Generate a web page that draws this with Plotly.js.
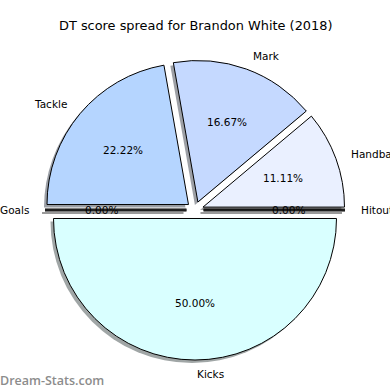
<!DOCTYPE html>
<html>
<head>
<meta charset="utf-8">
<script src="https://cdn.plot.ly/plotly-3.0.1.min.js"></script>
<style>html,body{margin:0;padding:0;background:#fff;}#chart{width:390px;height:390px;}</style>
</head>
<body>
<div id="chart"></div>
<script>
// Data (order drawn counter-clockwise starting at 9 o'clock)
const labels = ['Goals', 'Kicks', 'Hitouts', 'Handball', 'Mark', 'Tackle'];
const values = [0, 9, 0, 2, 3, 4];
const colors = ['#ffd9d9', '#d9ffff', '#d9d9ff', '#eaf0ff', '#c5d9ff', '#b5d5ff'];
const titleText = 'DT score spread for Brandon White (2018)';
const watermark = 'Dream-Stats.com';

// Geometry (pixels)
const W = 390, H = 390;
const cx = 195, cy = 210, box = 300, pull = 0.06;
const r = box / (2 + 2 * pull);
const shOff = 3;
const startDeg = 180;

function px2x(x) { return x / W; }
function px2y(y) { return 1 - y / H; }

function shadowColor(hex) {
  const n = parseInt(hex.slice(1), 16);
  const c = [(n >> 16) & 255, (n >> 8) & 255, n & 255].map(v => Math.round(0.5 * 255 + 0.15 * v));
  return 'rgb(' + c.join(',') + ')';
}

const total = values.reduce((a, b) => a + b, 0);
const annotations = [];
const shapes = [];
let cum = 0;
values.forEach((v, i) => {
  const t1 = startDeg + 360 * cum / total;
  const t2 = t1 + 360 * v / total;
  cum += v;
  const mid = (t1 + t2) / 2 * Math.PI / 180;
  const c = Math.cos(mid), s = Math.sin(mid);
  const ox = cx + pull * r * c, oy = cy - pull * r * s;
  // label
  const lx = ox + 1.1 * r * c, ly = oy - 1.1 * r * s;
  annotations.push({
    x: px2x(lx), y: px2y(ly), xref: 'paper', yref: 'paper',
    text: labels[i], showarrow: false,
    xanchor: lx > cx ? 'left' : (lx < cx - 1 ? 'right' : 'left'), yanchor: 'middle',
    font: {family: 'DejaVu Sans', size: 10.5, color: '#000'}
  });
  // percent
  const pxp = ox + 0.6 * r * c, pyp = oy - 0.6 * r * s;
  annotations.push({
    x: px2x(pxp), y: px2y(pyp), xref: 'paper', yref: 'paper',
    text: (100 * v / total).toFixed(2) + '%', showarrow: false,
    xanchor: 'center', yanchor: 'middle',
    font: {family: 'DejaVu Sans', size: 10.5, color: '#000'}
  });
  // zero-value wedges drawn as lines (with shadow)
  if (v === 0) {
    const ex = ox + r * c, ey = oy - r * s;
    shapes.push({type: 'line', xref: 'paper', yref: 'paper', layer: 'below',
      x0: px2x(ox - shOff), y0: px2y(oy + shOff), x1: px2x(ex - shOff), y1: px2y(ey + shOff),
      line: {color: '#9a9a9a', width: 2}});
    shapes.push({type: 'line', xref: 'paper', yref: 'paper', layer: 'above',
      x0: px2x(ox), y0: px2y(oy - 1), x1: px2x(ex), y1: px2y(ey - 1),
      line: {color: '#000', width: 1}});
    shapes.push({type: 'line', xref: 'paper', yref: 'paper', layer: 'above',
      x0: px2x(ox), y0: px2y(oy + 1), x1: px2x(ex), y1: px2y(ey + 1),
      line: {color: '#000', width: 1}});
  }
});

annotations.push({
  x: 0.5, y: px2y(26), xref: 'paper', yref: 'paper', text: titleText, showarrow: false,
  xanchor: 'center', yanchor: 'middle', font: {family: 'DejaVu Sans', size: 12.9, color: '#000'}
});
annotations.push({
  x: px2x(-2), y: px2y(380), xref: 'paper', yref: 'paper', text: watermark, showarrow: false,
  xanchor: 'left', yanchor: 'middle', font: {family: 'Open Sans', size: 12.5, weight: 600, color: '#8c8c8c'}
});

const dom = {x: [px2x(cx - box / 2), px2x(cx + box / 2)], y: [px2y(cy + box / 2), px2y(cy - box / 2)]};
const domShadow = {x: [px2x(cx - shOff - box / 2), px2x(cx - shOff + box / 2)], y: [px2y(cy + shOff + box / 2), px2y(cy + shOff - box / 2)]};

const common = {
  type: 'pie', labels: labels, values: values, sort: false,
  direction: 'counterclockwise', rotation: -90,
  pull: values.map(() => pull), textinfo: 'none', hoverinfo: 'skip', showlegend: false
};

const data = [
  Object.assign({}, common, {domain: domShadow,
    marker: {colors: colors.map(shadowColor), line: {width: 0}}}),
  Object.assign({}, common, {domain: dom,
    marker: {colors: colors, line: {color: '#000', width: 1}}})
];

const layout = {
  width: W, height: H, margin: {l: 0, r: 0, t: 0, b: 0},
  paper_bgcolor: '#fff', plot_bgcolor: '#fff',
  annotations: annotations, shapes: shapes, showlegend: false
};

Plotly.newPlot('chart', data, layout, {displayModeBar: false, staticPlot: true});
</script>
</body>
</html>
